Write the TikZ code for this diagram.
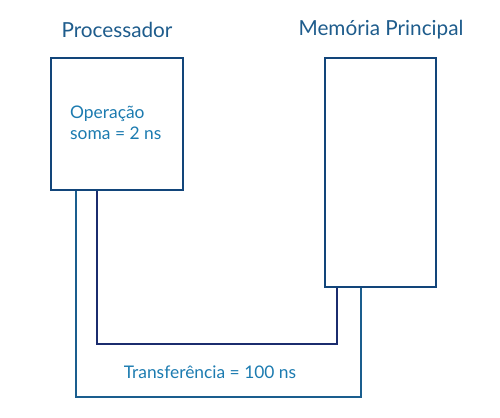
\documentclass[tikz,border=0pt]{standalone}
\usepackage{fontspec}
\setmainfont{Lato}
\usepackage{xcolor}
\usetikzlibrary{positioning, calc}

\definecolor{boxblue}{HTML}{12457A}
\definecolor{titleblue}{HTML}{1E5C8C}
\definecolor{textblue}{HTML}{1C7BB0}
\definecolor{navyline}{HTML}{1B2C6E}
\definecolor{tealline}{HTML}{1A5E8E}

\begin{document}
\begin{tikzpicture}[x=0.02cm, y=-0.02cm,
  unit/.style={draw=boxblue, line width=1.2pt, fill=white, inner sep=0pt},
  title/.style={text=titleblue, font=\fontsize{11.8}{14}\selectfont},
  note/.style={text=textblue, font=\fontsize{9.9}{12}\selectfont, align=left}]
\useasboundingbox (0,0) rectangle (500,417);

\node[unit, minimum width=2.64cm, minimum height=2.64cm] (proc) at (117,124) {};
\node[unit, minimum width=2.22cm, minimum height=4.58cm] (mem) at (380.5,172.5) {};

\node[title] (proctitle) at (117,30) {Processador};
\node[title] (memtitle) at (381,30) {Memória Principal};

\node[note, anchor=north west] (op) at (64,100) {Operação\\soma = 2 ns};

% bus lines
\coordinate (pin) at ($(proc.south west)+(47,0)$);
\coordinate (pout) at ($(proc.south west)+(26,0)$);
\coordinate (min) at ($(mem.south west)+(13,0)$);
\coordinate (mout) at ($(mem.south west)+(37,0)$);
\coordinate (innerlow) at (0,344);
\coordinate (outerlow) at (0,397);

\draw[navyline, line width=0.9pt] (pin) -- (pin |- innerlow) -| (min);
\draw[tealline, line width=0.9pt] (pout) -- (pout |- outerlow) -| (mout);

\node[note] (transf) at (210,372) {Transferência = 100 ns};
\end{tikzpicture}
\end{document}
